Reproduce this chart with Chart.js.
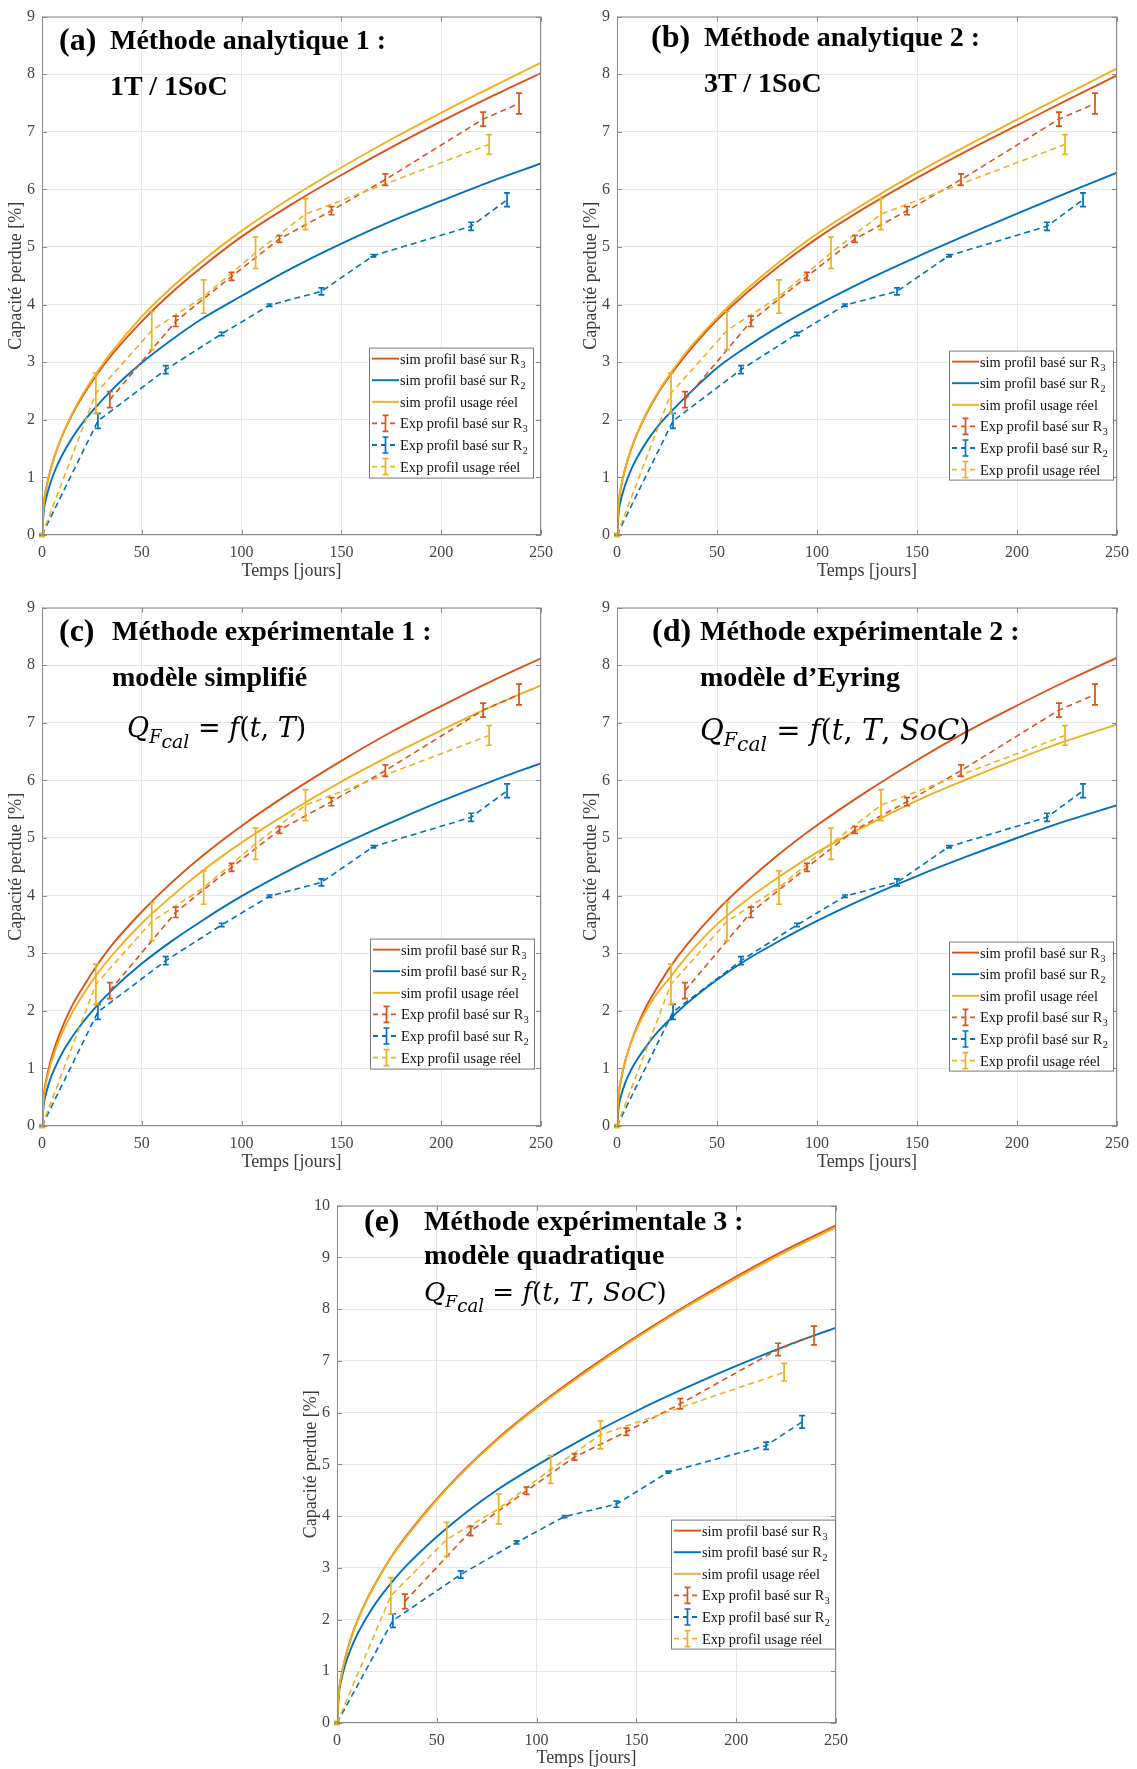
<!DOCTYPE html>
<html>
<head>
<meta charset="utf-8">
<script src="https://cdn.jsdelivr.net/npm/chart.js@4.4.1/dist/chart.umd.min.js"></script>
<style>
    body { margin: 0; background: #fff; overflow: hidden; }
    #page { position: relative; width: 1137px; height: 1769px; background: #fff; }
    canvas { position: absolute; }
    .t { position: absolute; font-family: "Liberation Serif", "Times New Roman", serif; font-weight: bold; color: #000; white-space: nowrap; line-height: 1; }
    .f { position: absolute; font-family: "DejaVu Serif", serif; color: #000; white-space: nowrap; line-height: 1; }
    .f i { font-style: italic; }
    .s1 { position: relative; top: 6px; font-size: 0.66em; }
    .s2 { position: relative; top: 11px; font-size: 0.7em; }
</style>
</head>
<body>
<div id="page"></div>
<script>
// time grid of the simulated curves (days)
const simT = [0, 1, 2, 4, 7, 10, 15, 20, 27, 35, 50, 65, 80, 100, 125, 150, 175, 200, 225, 250];

// (a) analytique 1
const aR3 = [0, 0.57, 0.79, 1.10, 1.44, 1.71, 2.08, 2.39, 2.76, 3.13, 3.71, 4.21, 4.65, 5.18, 5.74, 6.25, 6.73, 7.18, 7.61, 8.02];
const aR2 = [0, 0.45, 0.63, 0.88, 1.16, 1.38, 1.68, 1.93, 2.22, 2.52, 2.99, 3.39, 3.75, 4.15, 4.63, 5.06, 5.45, 5.80, 6.14, 6.45];
const aReal = [0, 0.56, 0.78, 1.09, 1.44, 1.72, 2.10, 2.42, 2.80, 3.18, 3.79, 4.30, 4.75, 5.28, 5.86, 6.38, 6.87, 7.33, 7.77, 8.20];
// (b) analytique 2
const bR3 = [0, 0.60, 0.83, 1.14, 1.48, 1.75, 2.12, 2.43, 2.79, 3.15, 3.73, 4.21, 4.64, 5.15, 5.70, 6.20, 6.67, 7.11, 7.55, 7.98];
const bR2 = [0, 0.44, 0.62, 0.86, 1.13, 1.34, 1.63, 1.87, 2.14, 2.42, 2.90, 3.27, 3.60, 3.99, 4.43, 4.83, 5.21, 5.58, 5.94, 6.29];
const bReal = [0, 0.60, 0.83, 1.14, 1.49, 1.76, 2.14, 2.45, 2.82, 3.19, 3.77, 4.27, 4.71, 5.23, 5.78, 6.29, 6.76, 7.21, 7.66, 8.10];
// (c) experimentale 1
const cR3 = [0, 0.56, 0.78, 1.09, 1.43, 1.70, 2.08, 2.38, 2.76, 3.14, 3.72, 4.23, 4.68, 5.21, 5.80, 6.34, 6.84, 7.29, 7.72, 8.12];
const cR2 = [0, 0.40, 0.56, 0.80, 1.05, 1.26, 1.54, 1.78, 2.07, 2.36, 2.82, 3.21, 3.56, 3.99, 4.46, 4.88, 5.27, 5.64, 5.98, 6.30];
const cReal = [0, 0.53, 0.74, 1.03, 1.35, 1.61, 1.96, 2.25, 2.61, 2.96, 3.52, 3.99, 4.42, 4.92, 5.47, 5.98, 6.44, 6.87, 7.28, 7.65];
// (d) experimentale 2
const dR3 = [0, 0.58, 0.80, 1.11, 1.45, 1.72, 2.10, 2.40, 2.78, 3.15, 3.74, 4.24, 4.69, 5.22, 5.81, 6.35, 6.85, 7.30, 7.73, 8.13];
const dR2 = [0, 0.37, 0.52, 0.74, 0.97, 1.15, 1.40, 1.62, 1.87, 2.13, 2.54, 2.89, 3.19, 3.56, 3.97, 4.34, 4.68, 5.00, 5.30, 5.57];
const dReal = [0, 0.60, 0.82, 1.12, 1.45, 1.70, 2.03, 2.30, 2.60, 2.95, 3.50, 3.93, 4.30, 4.75, 5.22, 5.65, 6.02, 6.37, 6.69, 6.97];
// (e) experimentale 3
const eR3 = [0, 0.63, 0.88, 1.24, 1.64, 1.96, 2.39, 2.75, 3.20, 3.63, 4.33, 4.94, 5.48, 6.11, 6.82, 7.47, 8.07, 8.63, 9.15, 9.62];
const eR2 = [0, 0.58, 0.80, 1.11, 1.44, 1.70, 2.05, 2.35, 2.70, 3.05, 3.60, 4.08, 4.50, 4.98, 5.53, 6.03, 6.48, 6.90, 7.29, 7.64];
const eReal = [0, 0.62, 0.88, 1.23, 1.63, 1.95, 2.38, 2.74, 3.19, 3.61, 4.31, 4.92, 5.46, 6.09, 6.79, 7.44, 8.04, 8.59, 9.11, 9.58];

// measured points, same in every panel (t, value, +/- error)
const expR3T = [34, 67, 95, 119, 145, 172, 221, 239];
const expR3V = [2.35, 3.71, 4.49, 5.14, 5.63, 6.17, 7.22, 7.49];
const expR3E = [0.14, 0.09, 0.07, 0.06, 0.07, 0.10, 0.12, 0.18];
const expR2T = [0, 28, 62, 90, 114, 140, 166, 215, 233];
const expR2V = [0, 1.98, 2.87, 3.49, 3.99, 4.23, 4.85, 5.36, 5.82];
const expR2E = [0, 0.13, 0.07, 0.03, 0.02, 0.06, 0.02, 0.07, 0.12];
const expRealT = [0, 27, 55, 81, 107, 132, 224];
const expRealV = [0, 2.46, 3.55, 4.14, 4.90, 5.57, 6.78];
const expRealE = [0.03, 0.35, 0.33, 0.29, 0.27, 0.27, 0.17];

const legendLabels = ['sim profil basé sur R', 'sim profil basé sur R', 'sim profil usage réel',
    'Exp profil basé sur R', 'Exp profil basé sur R', 'Exp profil usage réel'];
const legendSubs = ['3', '2', '', '3', '2', ''];

const colR3 = '#D95319';
const colR2 = '#0072BD';
const colReal = '#EDB120';
const serif = '"Liberation Serif", "Times New Roman", serif';

const formulaA = '<i>Q</i><span class="s1"><i>F</i></span><span class="s2"><i>cal</i></span> = <i>f</i>(<i>t</i>, <i>T</i>)';
const formulaB = '<i>Q</i><span class="s1"><i>F</i></span><span class="s2"><i>cal</i></span> = <i>f</i>(<i>t</i>, <i>T</i>, <i>SoC</i>)';

const panels = [
    { left: 0, top: 0, w: 570, h: 590, padR: 29, xH: 55, xTitlePad: 8.2, yMax: 9, r3: aR3, r2: aR2, real: aReal,
      leg: { x: 327, y: 331, w: 164, h: 130 },
      texts: [['(a)', 59, 50, 32], ['Méthode analytique 1 :', 110, 50, 28], ['1T / 1SoC', 110, 96, 28]] },
    { left: 575, top: 0, w: 562, h: 590, padR: 20, xH: 55, xTitlePad: 8.2, yMax: 9, r3: bR3, r2: bR2, real: bReal,
      leg: { x: 332, y: 334, w: 164, h: 129 },
      texts: [['(b)', 651, 47, 32], ['Méthode analytique 2 :', 704, 47, 28], ['3T / 1SoC', 704, 93, 28]] },
    { left: 0, top: 591, w: 570, h: 590, padR: 29, xH: 55, xTitlePad: 8.2, yMax: 9, r3: cR3, r2: cR2, real: cReal,
      leg: { x: 328, y: 331, w: 164, h: 130 },
      texts: [['(c)', 59, 641, 32], ['Méthode expérimentale 1 :', 112, 641, 28], ['modèle simplifié', 112, 687, 28]],
      formula: [formulaA, 127, 737, 27] },
    { left: 575, top: 591, w: 562, h: 590, padR: 20, xH: 55, xTitlePad: 8.2, yMax: 9, r3: dR3, r2: dR2, real: dReal,
      leg: { x: 332, y: 334, w: 164, h: 129 },
      texts: [['(d)', 652, 641, 32], ['Méthode expérimentale 2 :', 700, 641, 28], ['modèle d’Eyring', 700, 687, 28]],
      formula: [formulaB, 700, 740, 29] },
    { left: 295, top: 1189, w: 570, h: 580, padR: 29, xH: 46, xTitlePad: 0, yMax: 10, r3: eR3, r2: eR2, real: eReal,
      leg: { x: 334, y: 314, w: 164, h: 129 },
      texts: [['(e)', 364, 1231, 32], ['Méthode expérimentale 3 :', 424, 1231, 28], ['modèle quadratique', 424, 1265, 28]],
      formula: [formulaB, 424, 1301, 26] }
];

const page = document.querySelector('#page');

function simSet(label, values, color, order) {
    return {
        label,
        data: simT.map((t, i) => ({ x: t, y: values[i] })),
        borderColor: color,
        borderWidth: 1.9,
        pointRadius: 0,
        cubicInterpolationMode: 'monotone',
        order
    };
}

function expSet(label, ts, vs, es, color, order) {
    return {
        label,
        data: ts.map((t, i) => ({ x: t, y: vs[i] })),
        errors: es,
        borderColor: color,
        borderWidth: 1.6,
        borderDash: [6, 4],
        pointRadius: 0,
        order
    };
}

function drawErrBar(ctx, x, yTop, yBot, color) {
    ctx.save();
    ctx.strokeStyle = color;
    ctx.lineWidth = 1.7;
    ctx.setLineDash([]);
    ctx.beginPath();
    ctx.moveTo(x, yTop); ctx.lineTo(x, yBot);
    ctx.moveTo(x - 3, yTop); ctx.lineTo(x + 3, yTop);
    ctx.moveTo(x - 3, yBot); ctx.lineTo(x + 3, yBot);
    ctx.stroke();
    ctx.restore();
}

function decor(p) {
    return {
        id: 'decor',
        afterDatasetsDraw(chart) {
            const ctx = chart.ctx;
            const xs = chart.scales.x, ys = chart.scales.y;
            chart.data.datasets.forEach(ds => {
                if (!ds.errors) return;
                ds.data.forEach((pt, i) => {
                    const x = xs.getPixelForValue(pt.x);
                    drawErrBar(ctx, x, ys.getPixelForValue(pt.y + ds.errors[i]), ys.getPixelForValue(pt.y - ds.errors[i]), ds.borderColor);
                });
            });
        },
        afterDraw(chart) {
            const ctx = chart.ctx;
            const a = chart.chartArea;
            const xs = chart.scales.x, ys = chart.scales.y;
            ctx.save();
            // axes box + inward ticks
            ctx.strokeStyle = '#8a8a8a';
            ctx.lineWidth = 1;
            ctx.strokeRect(a.left + 0.5, a.top + 0.5, a.right - a.left - 1, a.bottom - a.top - 1);
            ctx.beginPath();
            xs.ticks.forEach(t => {
                const x = Math.round(xs.getPixelForValue(t.value)) + 0.5;
                ctx.moveTo(x, a.bottom); ctx.lineTo(x, a.bottom - 5);
                ctx.moveTo(x, a.top); ctx.lineTo(x, a.top + 5);
            });
            ys.ticks.forEach(t => {
                const y = Math.round(ys.getPixelForValue(t.value)) + 0.5;
                ctx.moveTo(a.left, y); ctx.lineTo(a.left + 5, y);
                ctx.moveTo(a.right, y); ctx.lineTo(a.right - 5, y);
            });
            ctx.stroke();

            // legend box
            const lx = a.left + p.leg.x, ly = a.top + p.leg.y;
            ctx.fillStyle = '#fff';
            ctx.fillRect(lx, ly, p.leg.w, p.leg.h);
            ctx.strokeStyle = '#7a7a7a';
            ctx.strokeRect(lx + 0.5, ly + 0.5, p.leg.w, p.leg.h);
            const sets = chart.data.datasets;
            legendLabels.forEach((lab, i) => {
                const cy = ly + 11 + 21.6 * i;
                const col = sets[i].borderColor;
                ctx.strokeStyle = col;
                ctx.lineWidth = 1.9;
                if (sets[i].errors) {
                    ctx.setLineDash([5, 4]);
                    ctx.beginPath();
                    ctx.moveTo(lx + 3, cy); ctx.lineTo(lx + 30, cy);
                    ctx.stroke();
                    ctx.setLineDash([]);
                    drawErrBar(ctx, lx + 16.5, cy - 8, cy + 8, col);
                } else {
                    ctx.setLineDash([]);
                    ctx.beginPath();
                    ctx.moveTo(lx + 3, cy); ctx.lineTo(lx + 30, cy);
                    ctx.stroke();
                }
                ctx.fillStyle = '#111';
                ctx.font = '14.4px ' + serif;
                ctx.textBaseline = 'alphabetic';
                ctx.fillText(lab, lx + 31, cy + 5);
                if (legendSubs[i]) {
                    const w = ctx.measureText(lab).width;
                    ctx.font = '10px ' + serif;
                    ctx.fillText(legendSubs[i], lx + 31.5 + w, cy + 9);
                }
            });
            ctx.restore();
        }
    };
}

function makeChart(p) {
    const cv = document.createElement('canvas');
    cv.width = p.w;
    cv.height = p.h;
    cv.style.left = p.left + 'px';
    cv.style.top = p.top + 'px';
    cv.style.width = p.w + 'px';
    cv.style.height = p.h + 'px';
    page.appendChild(cv);

    const datasets = [
        simSet('sim profil basé sur R3', p.r3, colR3, 6),
        simSet('sim profil basé sur R2', p.r2, colR2, 5),
        simSet('sim profil usage réel', p.real, colReal, 4),
        expSet('Exp profil basé sur R3', expR3T, expR3V, expR3E, colR3, 3),
        expSet('Exp profil basé sur R2', expR2T, expR2V, expR2E, colR2, 2),
        expSet('Exp profil usage réel', expRealT, expRealV, expRealE, colReal, 1)
    ];

    new Chart(cv, {
        type: 'line',
        data: { datasets },
        options: {
            responsive: false,
            animation: false,
            devicePixelRatio: 1,
            layout: { padding: { left: 0, top: 13, right: p.padR, bottom: 0 } },
            plugins: { legend: { display: false }, tooltip: { enabled: false } },
            scales: {
                x: {
                    type: 'linear',
                    min: 0,
                    max: 250,
                    ticks: { stepSize: 50, color: '#444', padding: 8, maxRotation: 0, font: { family: serif, size: 16 } },
                    grid: { color: '#e6e6e6', drawTicks: false },
                    border: { display: false },
                    title: {
                        display: true,
                        text: 'Temps [jours]',
                        color: '#3a3a3a',
                        font: { family: serif, size: 18 },
                        padding: { top: 0, bottom: p.xTitlePad }
                    },
                    afterFit: s => { s.height = p.xH; }
                },
                y: {
                    type: 'linear',
                    min: 0,
                    max: p.yMax,
                    ticks: { stepSize: 1, color: '#444', padding: 7, font: { family: serif, size: 16 } },
                    grid: { color: '#e6e6e6', drawTicks: false },
                    border: { display: false },
                    title: {
                        display: true,
                        text: 'Capacité perdue [%]',
                        color: '#3a3a3a',
                        font: { family: serif, size: 18 },
                        padding: { top: 5.2, bottom: 0 }
                    },
                    afterFit: s => { s.width = 42; }
                }
            }
        },
        plugins: [decor(p)]
    });
}

function addText(html, x, base, size, cls) {
    const d = document.createElement('div');
    d.className = cls;
    d.style.left = x + 'px';
    d.style.fontSize = size + 'px';
    d.style.top = (base - 0.84 * size) + 'px';
    d.innerHTML = html;
    page.appendChild(d);
}

panels.forEach(makeChart);
panels.forEach(p => {
    p.texts.forEach(t => addText(t[0], t[1], t[2], t[3], 't'));
    if (p.formula) addText(p.formula[0], p.formula[1], p.formula[2], p.formula[3], 'f');
});
</script>
</body>
</html>
